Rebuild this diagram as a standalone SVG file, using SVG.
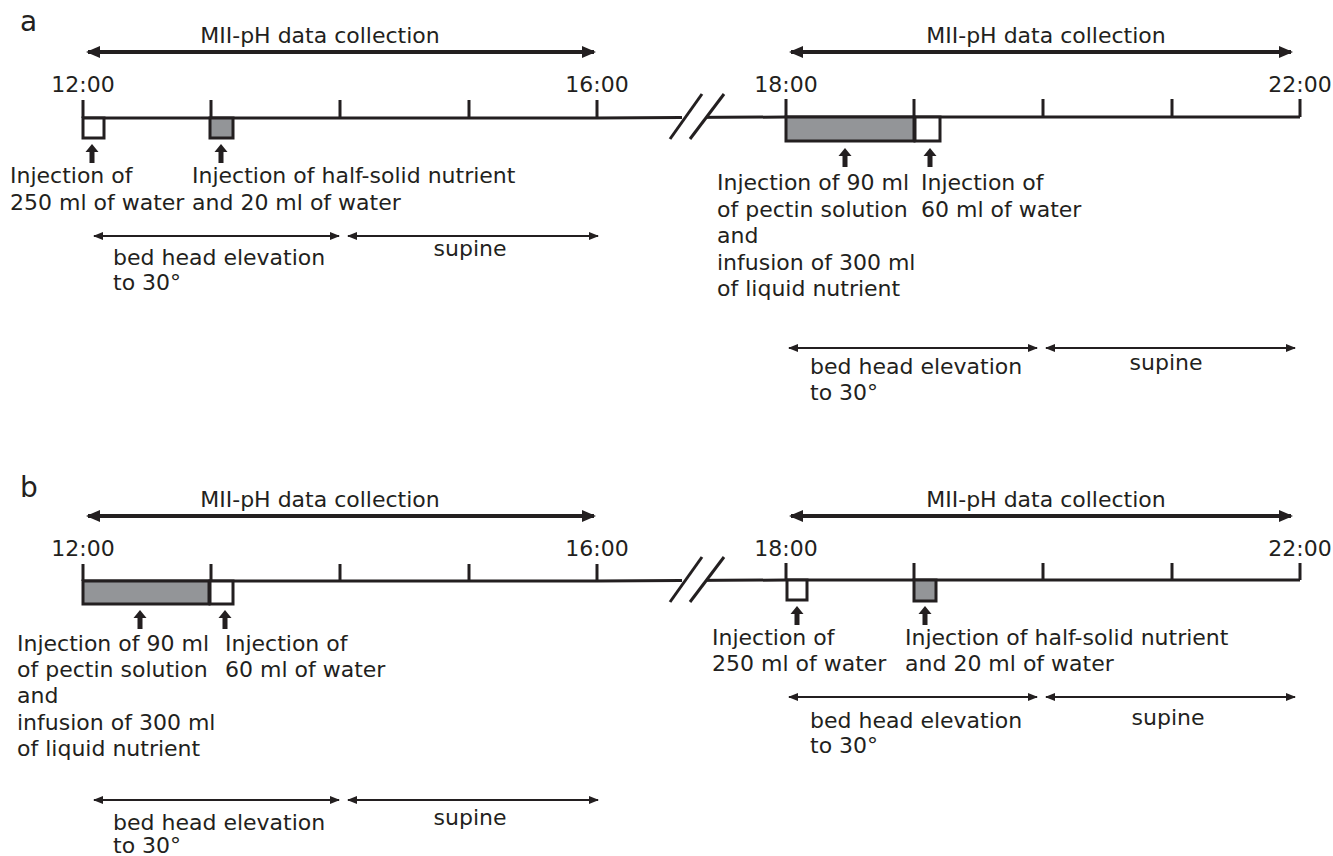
<svg xmlns="http://www.w3.org/2000/svg" width="1333" height="856" viewBox="0 0 1333 856">
<defs>
<style>
text{font-family:"DejaVu Sans","Liberation Sans",sans-serif;font-size:22px;fill:#231f20}
.lbl{font-size:28px}
.tl{stroke:#231f20;stroke-width:3;fill:none}
.tick{stroke:#231f20;stroke-width:3}
.big{stroke:#231f20;stroke-width:4;fill:none;marker-start:url(#hb);marker-end:url(#hb)}
.sm{stroke:#231f20;stroke-width:2;fill:none;marker-start:url(#hs);marker-end:url(#hs)}
.wbox{fill:#fff;stroke:#231f20;stroke-width:3}
.gbox{fill:#939598;stroke:#231f20;stroke-width:3}
.up{fill:#231f20}
.mid{text-anchor:middle}
</style>
<marker id="hb" viewBox="0 0 14 12" refX="12" refY="6" markerWidth="14" markerHeight="12" markerUnits="userSpaceOnUse" orient="auto-start-reverse"><path d="M0,0 L14,6 L0,12 Z" fill="#231f20"/></marker>
<marker id="hs" viewBox="0 0 10 8" refX="9" refY="4" markerWidth="10" markerHeight="8" markerUnits="userSpaceOnUse" orient="auto-start-reverse"><path d="M0,0 L10,4 L0,8 Z" fill="#231f20"/></marker>
<path id="up" d="M0,0 L6.5,8 L2.5,8 L2.5,19 L-2.5,19 L-2.5,8 L-6.5,8 Z"/>
</defs>

<!-- Panel a -->
<g id="panel-a-label"><text class="lbl" x="20" y="31">a</text></g>

<g id="a-left-collection">
<text class="mid" x="320" y="43">MII-pH data collection</text>
</g>
<g id="a-right-collection">
<text class="mid" x="1046" y="43">MII-pH data collection</text>
</g>
<g id="a-times">
<text class="mid" x="83" y="92">12:00</text>
<text class="mid" x="597" y="92">16:00</text>
<text class="mid" x="786" y="92">18:00</text>
<text class="mid" x="1300" y="92">22:00</text>
</g>

<g id="a-timeline">
<path class="tl" d="M83,118 L597,118 L786,117 L1300,117"/>
<line class="tick" x1="83" y1="100" x2="83" y2="118"/>
<line class="tick" x1="211" y1="100" x2="211" y2="118"/>
<line class="tick" x1="340" y1="100" x2="340" y2="118"/>
<line class="tick" x1="469" y1="100" x2="469" y2="118"/>
<line class="tick" x1="597" y1="100" x2="597" y2="118"/>
<line class="tick" x1="786" y1="99" x2="786" y2="117"/>
<line class="tick" x1="914" y1="99" x2="914" y2="117"/>
<line class="tick" x1="1043" y1="99" x2="1043" y2="117"/>
<line class="tick" x1="1172" y1="99" x2="1172" y2="117"/>
<line class="tick" x1="1300" y1="99" x2="1300" y2="117"/>
<rect x="682" y="112" width="24" height="12" fill="#fff"/>
<line class="tick" x1="670" y1="139" x2="702" y2="94"/>
<line class="tick" x1="690" y1="139" x2="724" y2="94"/>
</g>

<g id="a-water250">
<rect class="wbox" x="83" y="118" width="21" height="20"/>
<use href="#up" class="up" x="92" y="144"/>
<text x="10" y="183">Injection of</text>
<text x="10" y="210">250 ml of water</text>
</g>
<g id="a-halfsolid">
<rect class="gbox" x="210" y="118" width="23" height="20"/>
<use href="#up" class="up" x="221" y="144"/>
<text x="192" y="183">Injection of half-solid nutrient</text>
<text x="192" y="210">and 20 ml of water</text>
</g>
<g id="a-pectin">
<rect class="gbox" x="786" y="117" width="128" height="24"/>
<use href="#up" class="up" x="845" y="148"/>
<text x="717" y="190">Injection of 90 ml</text>
<text x="717" y="217">of pectin solution</text>
<text x="717" y="243">and</text>
<text x="717" y="270">infusion of 300 ml</text>
<text x="717" y="296">of liquid nutrient</text>
</g>
<g id="a-water60">
<rect class="wbox" x="915" y="117" width="25" height="24"/>
<use href="#up" class="up" x="930" y="148"/>
<text x="921" y="190">Injection of</text>
<text x="921" y="217">60 ml of water</text>
</g>
<g id="a-posture-left">
<text x="113" y="265">bed head elevation</text>
<text x="113" y="290">to 30°</text>
<text class="mid" x="470" y="256">supine</text>
</g>
<g id="a-posture-right">
<text x="810" y="374">bed head elevation</text>
<text x="810" y="400">to 30°</text>
<text class="mid" x="1166" y="370">supine</text>
</g>

<!-- Panel b -->
<g id="panel-b-label"><text class="lbl" x="20" y="497">b</text></g>
<g id="b-left-collection">
<text class="mid" x="320" y="507">MII-pH data collection</text>
</g>
<g id="b-right-collection">
<text class="mid" x="1046" y="507">MII-pH data collection</text>
</g>
<g id="b-times">
<text class="mid" x="83" y="556">12:00</text>
<text class="mid" x="597" y="556">16:00</text>
<text class="mid" x="786" y="556">18:00</text>
<text class="mid" x="1300" y="556">22:00</text>
</g>
<g id="b-timeline">
<path class="tl" d="M83,581 L597,581 L786,580 L1300,580"/>
<line class="tick" x1="83" y1="564" x2="83" y2="581"/>
<line class="tick" x1="211" y1="564" x2="211" y2="581"/>
<line class="tick" x1="340" y1="564" x2="340" y2="581"/>
<line class="tick" x1="469" y1="564" x2="469" y2="581"/>
<line class="tick" x1="597" y1="564" x2="597" y2="581"/>
<line class="tick" x1="786" y1="563" x2="786" y2="580"/>
<line class="tick" x1="914" y1="563" x2="914" y2="580"/>
<line class="tick" x1="1043" y1="563" x2="1043" y2="580"/>
<line class="tick" x1="1172" y1="563" x2="1172" y2="580"/>
<line class="tick" x1="1300" y1="563" x2="1300" y2="580"/>
<rect x="682" y="574" width="24" height="12" fill="#fff"/>
<line class="tick" x1="670" y1="602" x2="702" y2="557"/>
<line class="tick" x1="690" y1="602" x2="724" y2="557"/>
</g>
<g id="b-pectin">
<rect class="gbox" x="83" y="581" width="126" height="23"/>
<use href="#up" class="up" x="140" y="610"/>
<text x="17" y="651">Injection of 90 ml</text>
<text x="17" y="677">of pectin solution</text>
<text x="17" y="703">and</text>
<text x="17" y="730">infusion of 300 ml</text>
<text x="17" y="756">of liquid nutrient</text>
</g>
<g id="b-water60">
<rect class="wbox" x="210" y="581" width="23" height="23"/>
<use href="#up" class="up" x="225" y="610"/>
<text x="225" y="651">Injection of</text>
<text x="225" y="677">60 ml of water</text>
</g>
<g id="b-water250">
<rect class="wbox" x="787" y="580" width="20" height="20"/>
<use href="#up" class="up" x="797" y="606"/>
<text x="712" y="645">Injection of</text>
<text x="712" y="671">250 ml of water</text>
</g>
<g id="b-halfsolid">
<rect class="gbox" x="914" y="580" width="22" height="21"/>
<use href="#up" class="up" x="925" y="606"/>
<text x="905" y="645">Injection of half-solid nutrient</text>
<text x="905" y="671">and 20 ml of water</text>
</g>
<g id="b-posture-left">
<text x="113" y="830">bed head elevation</text>
<text x="113" y="853">to 30°</text>
<text class="mid" x="470" y="825">supine</text>
</g>
<g id="b-posture-right">
<text x="810" y="728">bed head elevation</text>
<text x="810" y="753">to 30°</text>
<text class="mid" x="1168" y="725">supine</text>
</g>

<g id="connectors">
<line class="big" x1="88" y1="52" x2="594" y2="52"/>
<line class="big" x1="791" y1="52" x2="1291" y2="52"/>
<line class="sm" x1="94" y1="236" x2="339" y2="236"/>
<line class="sm" x1="348" y1="236" x2="598" y2="236"/>
<line class="sm" x1="789" y1="348" x2="1037" y2="348"/>
<line class="sm" x1="1046" y1="348" x2="1295" y2="348"/>
<line class="big" x1="88" y1="516" x2="594" y2="516"/>
<line class="big" x1="791" y1="516" x2="1291" y2="516"/>
<line class="sm" x1="94" y1="800" x2="339" y2="800"/>
<line class="sm" x1="348" y1="800" x2="598" y2="800"/>
<line class="sm" x1="789" y1="697" x2="1037" y2="697"/>
<line class="sm" x1="1046" y1="697" x2="1295" y2="697"/>
</g>
</svg>
